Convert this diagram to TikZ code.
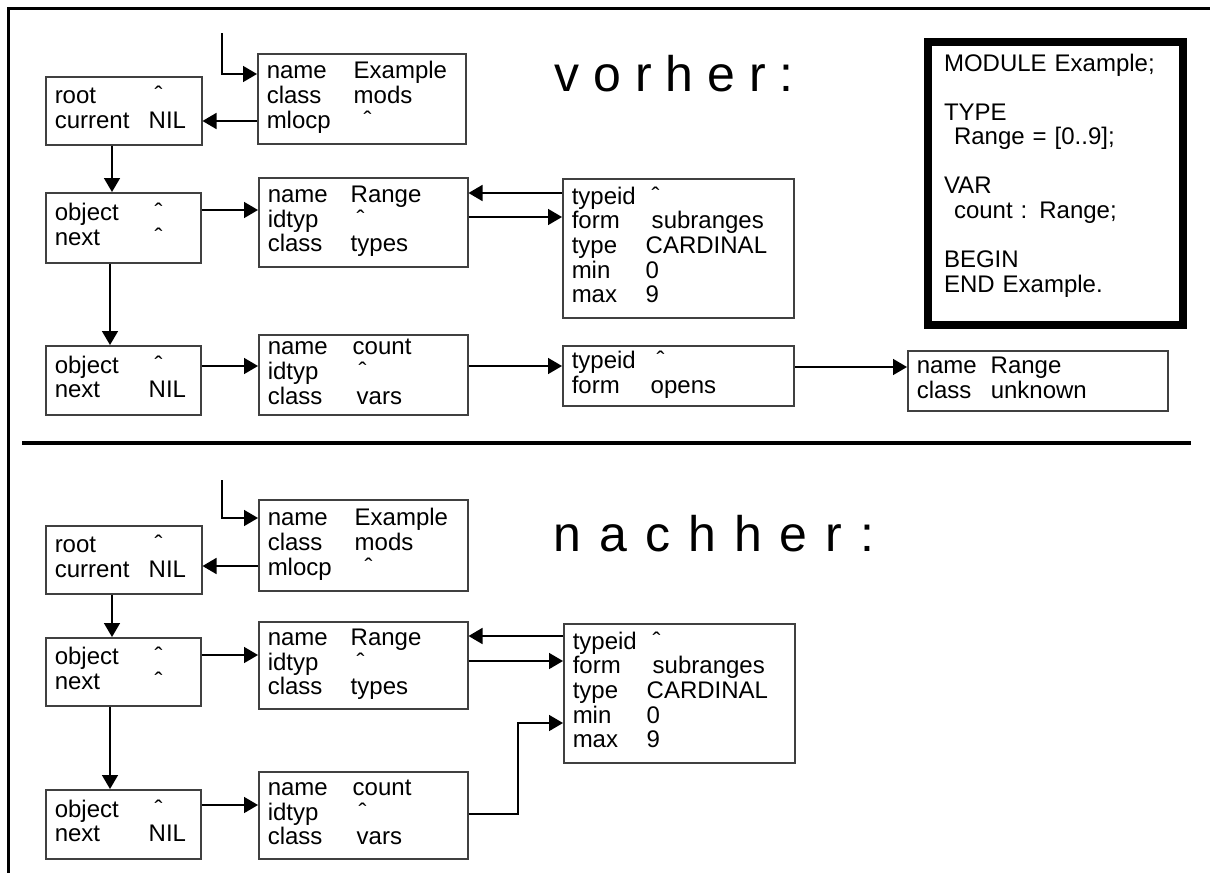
\documentclass[tikz,border=0pt]{standalone}
\usepackage{fontspec}
\setmainfont{Liberation Sans}
\usetikzlibrary{arrows.meta, calc}

\newcommand{\recfont}{\fontsize{12}{12.25}\selectfont}
\newcommand{\fields}[2]{\begin{tabular}{@{}p{#1}@{}l@{}}#2\end{tabular}}
\newcommand{\ptr}[1][3pt]{\hspace{#1}ˆ}

\begin{document}
\begin{tikzpicture}[
    x=0.5pt, y=-0.5pt,
    rec/.style={draw=black!75, line width=0.75pt, anchor=north west, inner ysep=0pt, inner xsep=4.5pt, align=left, font=\recfont},
    codebox/.style={draw, line width=4pt, anchor=north west, inner ysep=0pt, inner xsep=8pt, text width=111.5pt, minimum height=141.5pt, align=left, font=\recfont},
    big/.style={font=\fontsize{25}{25}\selectfont},
    arr/.style={-{Triangle[length=7pt,width=8pt]}, line width=0.8pt}
]
\useasboundingbox (0,0) rectangle (1210,873);

% Frame and separator
\draw[line width=1.5pt] (1210,8) -- (8,8) -- (8,873);
\draw[line width=2pt] (22,443) -- (1191,443);

% Source text
\node[codebox] (code) at (924,38) {\begin{tabular}{@{}l@{}}
MODULE Example;\\ \\
TYPE\\ \hspace{5pt}Range = [0..9];\\ \\
VAR\\ \hspace{5pt}count : Range;\\ \\
BEGIN\\ END Example.\\[7pt]\end{tabular}};

% vorher
\node[big] (vorher) at (674,74) {v o r h e r :};
\coordinate (inA) at (222,33);
\node[rec, text width=95pt, minimum height=45pt] (modA) at (257,53) {\fields{43.5pt}{name & Example\\ class & mods\\ mlocp & \ptr[5pt]}};
\node[rec, text width=69pt, minimum height=34pt] (rootA) at (45,76) {\fields{47pt}{root & \ptr\\ current & NIL}};
\node[rec, text width=68.5pt, minimum height=35pt] (objA1) at (45,192) {\fields{47pt}{object & \ptr\\ next & \ptr}};
\node[rec, text width=95.5pt, minimum height=44.5pt] (rangeA) at (258,177) {\fields{41.5pt}{name & Range\\ idtyp & \ptr\\ class & types}};
\node[rec, text width=106.5pt, minimum height=69.5pt] (subA) at (562,178) {\fields{37pt}{typeid & \ptr\\ form & \hspace{3pt}subranges\\ type & CARDINAL\\ min & 0\\ max & 9}};
\node[rec, text width=68.5pt, minimum height=34.5pt] (objA2) at (45,345) {\fields{47pt}{object & \ptr\\ next & NIL}};
\node[rec, text width=95.5pt, minimum height=40pt] (countA) at (258,334) {\fields{42.5pt}{name & count\\ idtyp & \ptr\\ class & \hspace{2pt}vars}};
\node[rec, text width=106.5pt, minimum height=30pt] (opensA) at (562,345) {\fields{39.5pt}{typeid & \ptr\\ form & opens}};
\node[rec, text width=121pt, minimum height=30pt] (unknownA) at (907,350) {\fields{37pt}{name & Range\\ class & unknown}};

\draw[arr] (inA) |- ($(modA.north west)+(0,21)$);
\coordinate (mA) at ($(modA.north west)+(0,68)$);
\draw[arr] (mA) -- (mA -| rootA.east);
\coordinate (dA) at ($(rootA.south west)+(67,0)$);
\draw[arr] (dA) -- (dA |- objA1.north);
\coordinate (oA) at ($(objA1.north east)+(0,18)$);
\draw[arr] (oA) -- (oA -| rangeA.west);
\coordinate (tA) at ($(subA.north west)+(0,15)$);
\draw[arr] (tA) -- (tA -| rangeA.east);
\coordinate (fA) at ($(rangeA.north east)+(0,40)$);
\draw[arr] (fA) -- (fA -| subA.west);
\coordinate (nA) at ($(objA1.south west)+(65,0)$);
\draw[arr] (nA) -- (nA |- objA2.north);
\coordinate (vA) at ($(objA2.north east)+(0,21)$);
\draw[arr] (vA) -- (vA -| countA.west);
\coordinate (cA) at ($(countA.north east)+(0,32)$);
\draw[arr] (cA) -- (cA -| opensA.west);
\coordinate (pA) at ($(opensA.north east)+(0,22)$);
\draw[arr] (pA) -- (pA -| unknownA.west);

% nachher
\node[big] (nachher) at (714,534) {\spaceskip=9pt n a c h h e r :};
\coordinate (inB) at (222,480);
\node[rec, text width=95.5pt, minimum height=45.5pt] (modB) at (258,499) {\fields{43.5pt}{name & Example\\ class & mods\\ mlocp & \ptr[5pt]}};
\node[rec, text width=69pt, minimum height=34pt] (rootB) at (45,525) {\fields{47pt}{root & \ptr\\ current & NIL}};
\node[rec, text width=68.5pt, minimum height=34pt] (objB1) at (45,637) {\fields{47pt}{object & \ptr\\ next & \ptr}};
\node[rec, text width=95.5pt, minimum height=43.5pt] (rangeB) at (258,621) {\fields{41.5pt}{name & Range\\ idtyp & \ptr\\ class & types}};
\node[rec, text width=106.5pt, minimum height=69.5pt] (subB) at (563,623) {\fields{37pt}{typeid & \ptr\\ form & \hspace{3pt}subranges\\ type & CARDINAL\\ min & 0\\ max & 9}};
\node[rec, text width=68.5pt, minimum height=34.5pt] (objB2) at (45,789) {\fields{47pt}{object & \ptr\\ next & NIL}};
\node[rec, text width=95.5pt, minimum height=43.5pt] (countB) at (258,771) {\fields{42.5pt}{name & count\\ idtyp & \ptr\\ class & \hspace{2pt}vars}};

\draw[arr] (inB) |- ($(modB.north west)+(0,19)$);
\coordinate (mB) at ($(modB.north west)+(0,67)$);
\draw[arr] (mB) -- (mB -| rootB.east);
\coordinate (dB) at ($(rootB.south west)+(67,0)$);
\draw[arr] (dB) -- (dB |- objB1.north);
\coordinate (oB) at ($(objB1.north east)+(0,18)$);
\draw[arr] (oB) -- (oB -| rangeB.west);
\coordinate (tB) at ($(subB.north west)+(0,13)$);
\draw[arr] (tB) -- (tB -| rangeB.east);
\coordinate (fB) at ($(rangeB.north east)+(0,40)$);
\draw[arr] (fB) -- (fB -| subB.west);
\coordinate (nB) at ($(objB1.south west)+(65,0)$);
\draw[arr] (nB) -- (nB |- objB2.north);
\coordinate (vB) at ($(objB2.north east)+(0,16)$);
\draw[arr] (vB) -- (vB -| countB.west);
\coordinate (cB) at ($(countB.north east)+(0,43)$);
\coordinate (kB) at ($(subB.north west)+(0,100)$);
\draw[arr] (cB) -| ($(kB)+(-45,0)$) -- (kB);

\end{tikzpicture}
\end{document}
